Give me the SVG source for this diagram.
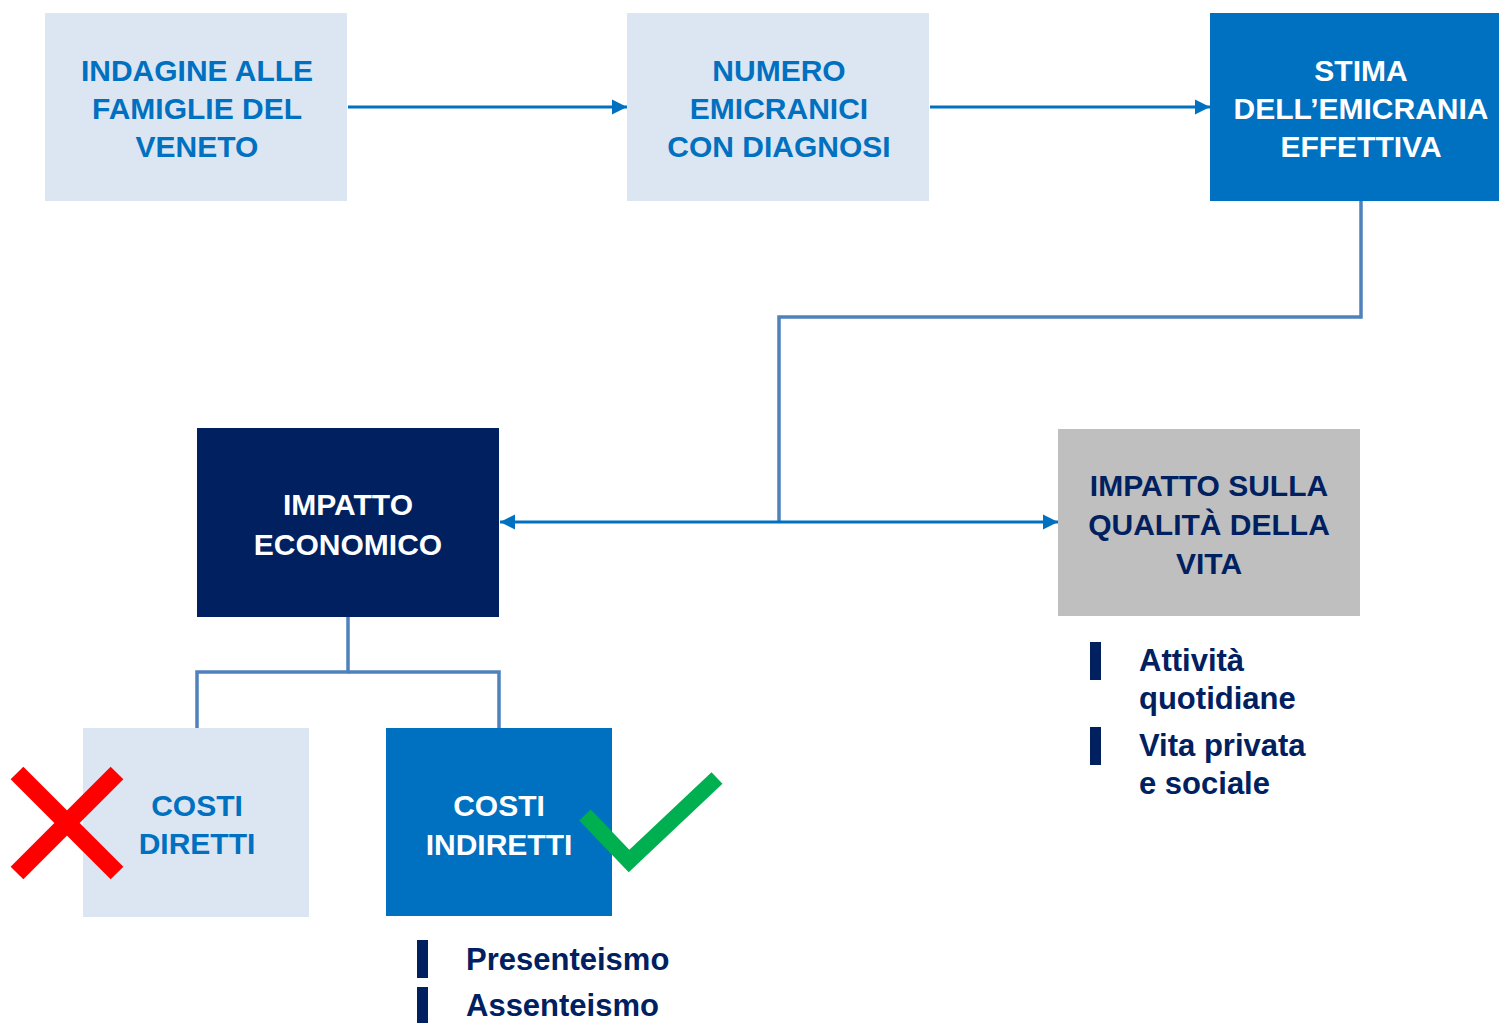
<svg xmlns="http://www.w3.org/2000/svg" width="1499" height="1023" viewBox="0 0 1499 1023">
<style>
text{font-family:"Liberation Sans",Arial,sans-serif;font-weight:bold;text-anchor:middle;font-size:30px}
.lt{fill:#0070C0}
.wt{fill:#FFFFFF}
.dt{fill:#002060}
.bl{text-anchor:start;fill:#002060;font-size:31px}
.ar{stroke:#0070C0;stroke-width:3;fill:none}
.el{stroke:#4F81BD;stroke-width:3.5;fill:none}
</style>
<defs>
<marker id="ah" viewBox="0 0 10 10" refX="10" refY="5" markerWidth="5" markerHeight="5.3" orient="auto-start-reverse" markerUnits="strokeWidth">
<path d="M0,0L10,5L0,10z" fill="#0070C0"/>
</marker>
</defs>
<rect width="1499" height="1023" fill="#FFFFFF"/>
<g id="connectors">
<line class="ar" x1="348" y1="107" x2="627" y2="107" marker-end="url(#ah)"/>
<line class="ar" x1="930" y1="107" x2="1210" y2="107" marker-end="url(#ah)"/>
<polyline class="el" points="1361,201 1361,317 779,317 779,522"/>
<line class="ar" x1="500" y1="522" x2="1058" y2="522" marker-start="url(#ah)" marker-end="url(#ah)"/>
<polyline class="el" points="348,617 348,672 197,672 197,728"/>
<polyline class="el" points="348,672 499,672 499,728"/>
</g>
<g id="n1">
<rect x="45" y="13" width="302" height="188" fill="#DCE6F2"/>
<text class="lt" x="197" y="81">INDAGINE ALLE</text>
<text class="lt" x="197" y="119">FAMIGLIE DEL</text>
<text class="lt" x="197" y="157">VENETO</text>
</g>
<g id="n2">
<rect x="627" y="13" width="302" height="188" fill="#DCE6F2"/>
<text class="lt" x="779" y="81">NUMERO</text>
<text class="lt" x="779" y="119">EMICRANICI</text>
<text class="lt" x="779" y="157">CON DIAGNOSI</text>
</g>
<g id="n3">
<rect x="1210" y="13" width="289" height="188" fill="#0070C0"/>
<text class="wt" x="1361" y="81">STIMA</text>
<text class="wt" x="1361" y="119">DELL’EMICRANIA</text>
<text class="wt" x="1361" y="157">EFFETTIVA</text>
</g>
<g id="n4">
<rect x="197" y="428" width="302" height="189" fill="#002060"/>
<text class="wt" x="348" y="515">IMPATTO</text>
<text class="wt" x="348" y="555">ECONOMICO</text>
</g>
<g id="n5">
<rect x="1058" y="429" width="302" height="187" fill="#BFBFBF"/>
<text class="dt" x="1209" y="496">IMPATTO SULLA</text>
<text class="dt" x="1209" y="535">QUALITÀ DELLA</text>
<text class="dt" x="1209" y="574">VITA</text>
</g>
<g id="n6">
<rect x="83" y="728" width="226" height="189" fill="#DCE6F2"/>
<text class="lt" x="197" y="816">COSTI</text>
<text class="lt" x="197" y="854">DIRETTI</text>
</g>
<g id="n7">
<rect x="386" y="728" width="226" height="188" fill="#0070C0"/>
<text class="wt" x="499" y="816">COSTI</text>
<text class="wt" x="499" y="855">INDIRETTI</text>
</g>
<g id="cross">
<line x1="17" y1="773" x2="117" y2="873" stroke="#FF0000" stroke-width="18"/>
<line x1="117" y1="773" x2="17" y2="873" stroke="#FF0000" stroke-width="18"/>
</g>
<g id="check">
<polyline points="585,815 629,861 717,778" fill="none" stroke="#00B050" stroke-width="16"/>
</g>
<g id="list-quality">
<rect x="1090" y="642" width="11" height="38" fill="#002060"/>
<rect x="1090" y="727" width="11" height="38" fill="#002060"/>
<text class="bl" x="1139" y="671">Attività</text>
<text class="bl" x="1139" y="709">quotidiane</text>
<text class="bl" x="1139" y="756">Vita privata</text>
<text class="bl" x="1139" y="794">e sociale</text>
</g>
<g id="list-costs">
<rect x="417" y="940" width="11" height="38" fill="#002060"/>
<rect x="417" y="987" width="11" height="36" fill="#002060"/>
<text class="bl" x="466" y="970">Presenteismo</text>
<text class="bl" x="466" y="1016">Assenteismo</text>
</g>
</svg>
